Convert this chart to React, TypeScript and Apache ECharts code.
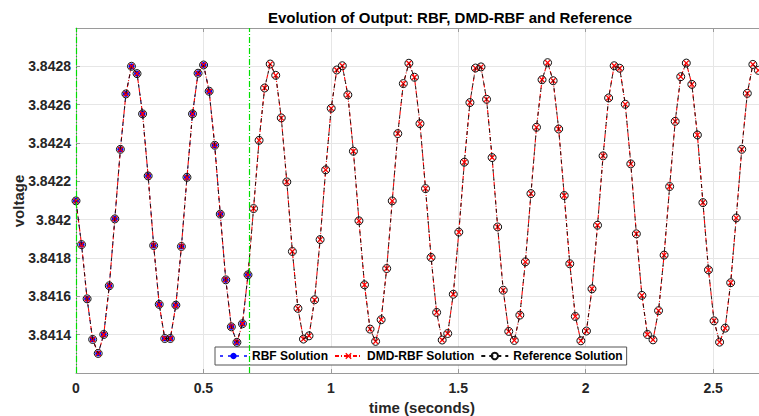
import React, { useEffect, useRef } from "react";
import * as echarts from "echarts";

// sample step (seconds) of the simulation output
const DT = 0.02177;

// Reference solution values (voltage) at t = i * DT
const referenceValues = [
  3.842098, 3.84187, 3.841587, 3.841375, 3.841302, 3.841401, 3.841655, 3.842004, 3.842367, 3.842656,
  3.8428, 3.842762, 3.842552, 3.842228, 3.841865, 3.841558, 3.84138, 3.84138, 3.841554, 3.84186,
  3.842221, 3.842552, 3.842764, 3.842807, 3.84267, 3.842388, 3.842029, 3.841686, 3.841441, 3.84136,
  3.841457, 3.841712, 3.842058, 3.842414, 3.842687, 3.842812, 3.842753, 3.842531, 3.842197, 3.841834,
  3.841537, 3.841377, 3.841394, 3.841582, 3.841896, 3.84226, 3.842581, 3.842781, 3.842803, 3.842651,
  3.842357, 3.841994, 3.84166, 3.841429, 3.841365, 3.841478, 3.841745, 3.842098, 3.842449, 3.84271,
  3.842816, 3.842743, 3.842501, 3.842162, 3.841803, 3.841516, 3.841372, 3.841406, 3.841611, 3.841935,
  3.8423, 3.842611, 3.842791, 3.842797, 3.842628, 3.842324, 3.841962, 3.841632, 3.841417, 3.84137,
  3.841502, 3.84178, 3.842136, 3.842482, 3.84273, 3.842819, 3.842725, 3.842473, 3.842126, 3.84177,
  3.841495, 3.841368, 3.841419, 3.841639, 3.841971, 3.842333, 3.842635, 3.842803, 3.84279, 3.842602,
  3.842291, 3.841926, 3.841605, 3.841401, 3.841373, 3.841525, 3.841815, 3.842173, 3.842513, 3.842746,
  3.842817, 3.842706, 3.842442, 3.842089, 3.841738, 3.841472, 3.841361, 3.841434, 3.841671, 3.842009,
  3.842367, 3.842659, 3.84281, 3.842779,
];

// RBF solution (training window only)
const rbfValues = [
  3.842098, 3.84187, 3.841587, 3.841375, 3.841302, 3.841401, 3.841655, 3.842004, 3.842367, 3.842656,
  3.8428, 3.842762, 3.842552, 3.842228, 3.841865, 3.841558, 3.84138, 3.84138, 3.841554, 3.84186,
  3.842221, 3.842552, 3.842764, 3.842807, 3.84267, 3.842388, 3.842029, 3.841686, 3.841441, 3.84136,
  3.841457, 3.841712,
];

// DMD-RBF solution (visually identical to the reference)
const dmdRbfValues = referenceValues.slice();

const seriesNames = ["RBF Solution", "DMD-RBF Solution", "Reference Solution"];
const switchTimes = [0, 0.677];

const X_MIN = 0;
const X_MAX = 2.68;
const X_STEP = 0.5;
const Y_MIN = 3.8412;
const Y_MAX = 3.843;
const Y_STEP = 0.0002;

const FONT = 'Arial, "Liberation Sans", Helvetica, sans-serif';

const toPairs = (vals: number[]) => vals.map((v, i) => [i * DT, v]);

const X_SYMBOL =
  "path://M0,1.5L1.5,0L5,3.5L8.5,0L10,1.5L6.5,5L10,8.5L8.5,10L5,6.5L1.5,10L0,8.5L3.5,5Z";

export default function App() {
  const ref = useRef<HTMLDivElement>(null);

  useEffect(() => {
    if (!ref.current) return;
    const chart = echarts.init(ref.current, undefined, { renderer: "svg" });
    const axisColor = "#9a9a9a";
    const labelStyle = {
      color: "#262626",
      fontSize: 14,
      fontWeight: "bold" as const,
      fontFamily: FONT,
    };
    chart.setOption({
      animation: false,
      backgroundColor: "#ffffff",
      grid: { left: 76, right: 0, top: 28, bottom: 43, containLabel: false },
      graphic: [
        {
          type: "text",
          x: 450,
          y: 17,
          style: {
            text: "Evolution of Output: RBF, DMD-RBF and Reference",
            fontSize: 15,
            fontWeight: "bold",
            fontFamily: FONT,
            fill: "#000",
            align: "center",
            verticalAlign: "middle",
          },
        },
        {
          type: "text",
          x: 422,
          y: 407,
          style: {
            text: "time (seconds)",
            fontSize: 15,
            fontWeight: "bold",
            fontFamily: FONT,
            fill: "#262626",
            align: "center",
            verticalAlign: "middle",
          },
        },
        {
          type: "text",
          x: 18.5,
          y: 201,
          rotation: Math.PI / 2,
          style: {
            text: "voltage",
            fontSize: 15,
            fontWeight: "bold",
            fontFamily: FONT,
            fill: "#262626",
            align: "center",
            verticalAlign: "middle",
          },
        },
      ],
      legend: {
        data: seriesNames,
        left: 215,
        top: 347,
        orient: "horizontal",
        itemWidth: 27,
        itemHeight: 8,
        itemGap: 6,
        padding: [3, 4],
        backgroundColor: "#ffffff",
        borderColor: "#555",
        borderWidth: 1,
        borderRadius: 0,
        textStyle: {
          color: "#000",
          fontSize: 12,
          fontWeight: "bold",
          fontFamily: FONT,
        },
      },
      xAxis: [
        {
          type: "value",
          min: X_MIN,
          max: X_MAX,
          interval: X_STEP,
          axisLine: { show: true, lineStyle: { color: axisColor, width: 1 } },
          axisTick: { show: true, inside: true, length: 4, lineStyle: { color: axisColor } },
          splitLine: { show: true, lineStyle: { color: "#e6e6e6", width: 1 } },
          axisLabel: {
            ...labelStyle,
            margin: 8,
            showMaxLabel: false,
            formatter: (v: number) => String(parseFloat(v.toFixed(2))),
          },
        },
        {
          type: "value",
          position: "top",
          min: X_MIN,
          max: X_MAX,
          interval: X_STEP,
          axisLine: { show: true, lineStyle: { color: axisColor, width: 1 } },
          axisTick: { show: true, inside: true, length: 4, lineStyle: { color: axisColor } },
          splitLine: { show: false },
          axisLabel: { show: false },
        },
      ],
      yAxis: {
        type: "value",
        min: Y_MIN,
        max: Y_MAX,
        interval: Y_STEP,
        axisLine: { show: true, lineStyle: { color: axisColor, width: 1 } },
        axisTick: { show: true, inside: true, length: 4, lineStyle: { color: axisColor } },
        splitLine: { show: true, lineStyle: { color: "#e6e6e6", width: 1 } },
        axisLabel: {
          ...labelStyle,
          margin: 5,
          showMinLabel: false,
          showMaxLabel: false,
          formatter: (v: number) => String(parseFloat(v.toFixed(4))),
        },
      },
      series: [
        {
          name: "switch",
          type: "line",
          xAxisIndex: 0,
          data: [],
          z: 1,
          silent: true,
          markLine: {
            silent: true,
            symbol: ["none", "none"],
            label: { show: false },
            emphasis: { disabled: true },
            lineStyle: { color: "#00e000", opacity: 1, width: 1.2, type: [6, 2, 1, 2] },
            data: switchTimes.map((t) => ({
              xAxis: t,
              lineStyle: { color: "#00e000", opacity: 1, width: 1.2, type: [6, 2, 1, 2] },
            })),
          },
        },
        {
          name: seriesNames[0],
          type: "line",
          xAxisIndex: 0,
          data: toPairs(rbfValues),
          symbol: "circle",
          symbolSize: 6,
          showAllSymbol: true,
          itemStyle: { color: "#0000ff" },
          lineStyle: { color: "#4040ff", width: 0.8, type: [3, 5] },
          z: 2,
        },
        {
          name: seriesNames[1],
          type: "line",
          xAxisIndex: 0,
          data: toPairs(dmdRbfValues),
          symbol: X_SYMBOL,
          symbolSize: 6,
          showAllSymbol: true,
          itemStyle: { color: "#ff0000" },
          lineStyle: { color: "#ff0000", width: 1.1, type: [4, 2, 1, 2] },
          z: 3,
        },
        {
          name: seriesNames[2],
          type: "line",
          xAxisIndex: 0,
          data: toPairs(referenceValues),
          symbol: "circle",
          symbolSize: 8,
          showAllSymbol: true,
          itemStyle: { color: "rgba(0,0,0,0)", borderColor: "#111", borderWidth: 1 },
          lineStyle: { color: "#111", width: 0.9, type: [4, 4] },
          z: 4,
        },
      ],
    });
    return () => chart.dispose();
  }, []);

  return (
    <div
      ref={ref}
      style={{ position: "fixed", left: 0, top: 0, width: 759, height: 416, background: "#fff" }}
    />
  );
}
